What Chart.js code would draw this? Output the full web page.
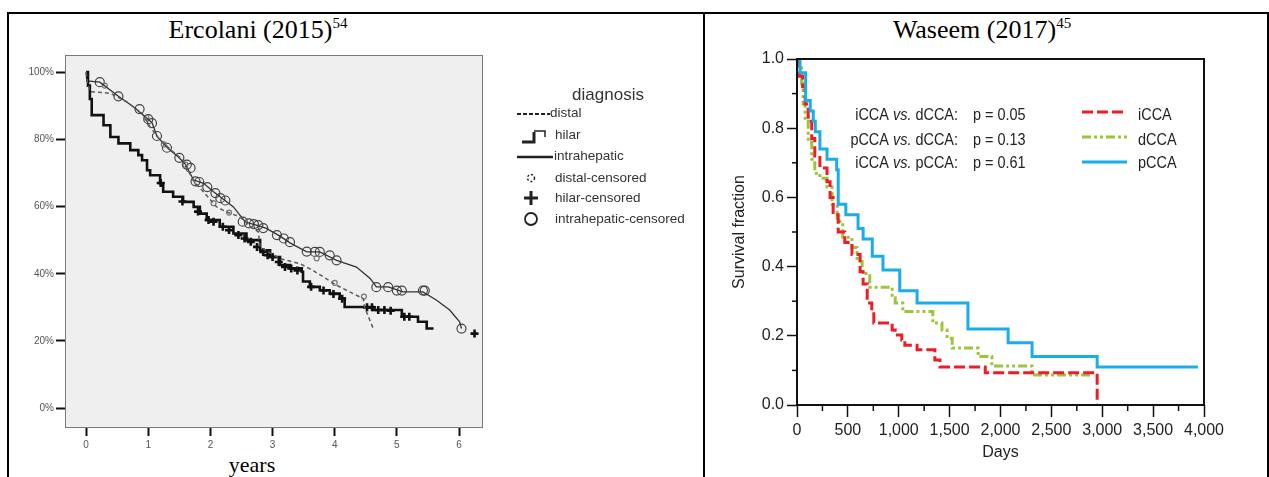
<!DOCTYPE html>
<html>
<head>
<meta charset="utf-8">
<script src="https://cdn.jsdelivr.net/npm/chart.js@4.4.0/dist/chart.umd.min.js"></script>
<style>
  body { margin: 0; background: #fff; width: 1269px; height: 477px; overflow: hidden; position: relative; font-family: "Liberation Serif", "Times New Roman", serif; }
  .rule { position: absolute; background: #000; }
  .title { position: absolute; font-size: 26px; line-height: 28px; color: #000; white-space: nowrap; transform: translateX(-50%); }
  .title sup { font-size: 15px; line-height: 0; vertical-align: 0; position: relative; top: -10px; }
  canvas { position: absolute; }
</style>
</head>
<body>
<div class="rule" style="left:7px;top:12px;width:1262px;height:2px"></div>
<div class="rule" style="left:7px;top:12px;width:2px;height:465px"></div>
<div class="rule" style="left:703px;top:12px;width:2px;height:465px"></div>
<div class="rule" style="left:1267px;top:12px;width:2px;height:465px"></div>

<div class="title" style="left:258px;top:16px">Ercolani (2015)<sup>54</sup></div>
<div class="title" style="left:982px;top:16px">Waseem (2017)<sup>45</sup></div>
<div class="title" style="left:252px;top:451px;font-size:22px">years</div>

<canvas id="ercolani" width="695" height="462" style="left:8px;top:15px"></canvas>
<canvas id="waseem" width="562" height="462" style="left:706px;top:15px"></canvas>

<script>
'use strict';

// ---- Ercolani (2015): survival (%) against years ----
const distalYears = [0, 0.02, 0.06, 0.39, 0.65, 0.9, 1.03, 1.19, 1.4, 1.56, 1.64, 1.72, 2.1, 2.26, 2.48, 2.64, 2.77, 2.8, 3.12, 3.44, 3.65, 3.9, 4.03, 4.24, 4.46, 4.48, 4.62];
const distalPct   = [100, 97, 94.2, 93.7, 91.2, 87.7, 83.7, 79.8, 76.3, 73.8, 70.8, 67.9, 59.9, 58.4, 56.9, 54, 52.5, 48, 44.5, 43, 41, 38.1, 36.6, 34.6, 32.6, 30.1, 23.7];

const hilarYears = [0, 0.03, 0.06, 0.09, 0.28, 0.39, 0.52, 0.71, 0.84, 0.9, 0.98, 1.03, 1.19, 1.24, 1.4, 1.56, 1.73, 1.83, 1.94, 2.15, 2.37, 2.58, 2.8, 2.96, 3.12, 3.28, 3.47, 3.49, 3.6, 3.76, 3.92, 4.08, 4.16, 4.62, 5.08, 5.34, 5.48, 5.59];
const hilarPct   = [100, 96, 92, 87.2, 84.2, 80.7, 78.8, 76.8, 75.3, 73.8, 70.8, 69.3, 66.9, 64.4, 62.9, 61.4, 59.9, 57.9, 56, 54, 52, 50, 47, 45, 42.6, 41.6, 40.6, 37.7, 36.1, 35.1, 34.1, 32.6, 30.1, 29.2, 27.2, 25.7, 23.7, 23.7];

const intraYears = [0, 0.01, 0.22, 0.52, 0.76, 0.95, 1.06, 1.14, 1.32, 1.48, 1.59, 1.73, 1.89, 2.05, 2.23, 2.37, 2.56, 2.74, 2.9, 3.12, 3.28, 3.55, 3.76, 4.03, 4.35, 4.57, 4.67, 4.86, 5.1, 5.42, 5.64, 5.85, 6.01, 6.04];
const intraPct   = [100, 97.4, 97, 92.8, 89.7, 86.7, 85, 80.9, 77.3, 74.8, 72.8, 67.9, 66.9, 64.4, 61.9, 59.9, 55.4, 54.5, 53.5, 51.2, 49.2, 46.5, 46.5, 44, 42, 38.6, 36.1, 36.1, 34.6, 34.6, 32.1, 29.2, 25.7, 23.7];

const distalCensYears = [0.3, 0.97, 1.25, 1.6, 2.05, 2.3, 3.71, 4.0, 4.47];
const distalCensPct   = [96, 86.5, 78.5, 72.5, 61, 58.2, 44.6, 37.3, 33.2];

const hilarCensYears = [1.2, 1.55, 1.8, 1.97, 2.05, 2.2, 2.3, 2.45, 2.55, 2.65, 2.75, 2.85, 2.92, 3.0, 3.1, 3.2, 3.3, 3.4, 3.62, 3.82, 3.98, 4.12, 4.52, 4.6, 4.7, 4.8, 4.9, 5.12, 5.2, 6.25];
const hilarCensPct   = [67, 61.5, 58.5, 56, 55.5, 54, 53, 51.5, 50.5, 49.5, 48, 46.5, 45.5, 45, 43.5, 42, 41.6, 41, 36.1, 35, 34, 32.6, 30, 30, 29.2, 29.2, 29, 27.2, 27.2, 22.2];

const intraCensYears = [0.22, 0.52, 0.86, 1.0, 1.06, 1.14, 1.3, 1.5, 1.62, 1.68, 1.76, 1.82, 1.95, 2.08, 2.16, 2.24, 2.52, 2.62, 2.7, 2.77, 2.85, 3.07, 3.18, 3.28, 3.55, 3.68, 3.76, 3.92, 4.03, 4.67, 4.86, 5.0, 5.08, 5.42, 5.45, 6.04];
const intraCensPct   = [97, 92.8, 89, 86, 84.8, 81, 77.5, 74.5, 72.5, 71.5, 67.5, 67.3, 65.8, 64, 62.5, 61.8, 55.5, 55, 54.8, 54.5, 53.6, 51.5, 50.5, 49.4, 46.6, 46.5, 46.5, 45.5, 44, 36, 36, 35, 35, 35, 35, 23.7];

const pctTicks  = [0, 20, 40, 60, 80, 100];
const yearTicks = [0, 1, 2, 3, 4, 5, 6];

// ---- Waseem (2017): survival fraction against days ----
const iccaDays = [0, 25, 55, 80, 110, 145, 175, 225, 295, 325, 355, 405, 470, 540, 620, 650, 690, 735, 755, 935, 965, 1030, 1060, 1180, 1355, 1405, 1850, 2950];
const iccaSurv = [1.0, 0.95, 0.92, 0.87, 0.82, 0.77, 0.72, 0.685, 0.645, 0.6, 0.55, 0.5, 0.47, 0.435, 0.385, 0.35, 0.295, 0.27, 0.237, 0.217, 0.202, 0.188, 0.173, 0.16, 0.13, 0.11, 0.093, 0.0];

const dccaDays = [0, 20, 45, 60, 80, 110, 145, 175, 225, 295, 345, 395, 450, 540, 590, 640, 715, 935, 965, 1040, 1335, 1425, 1475, 1525, 1780, 1915, 2310, 2880];
const dccaSurv = [1.0, 0.98, 0.93, 0.87, 0.82, 0.76, 0.71, 0.67, 0.655, 0.63, 0.58, 0.53, 0.485, 0.455, 0.415, 0.38, 0.34, 0.31, 0.295, 0.27, 0.237, 0.217, 0.193, 0.165, 0.14, 0.113, 0.087, 0.087];

const pccaDays = [0, 30, 85, 130, 160, 180, 225, 295, 390, 405, 480, 600, 650, 740, 845, 1010, 1180, 1680, 2075, 2310, 2950, 3940];
const pccaSurv = [1.0, 0.96, 0.88, 0.85, 0.82, 0.79, 0.74, 0.71, 0.68, 0.58, 0.55, 0.51, 0.48, 0.43, 0.39, 0.33, 0.295, 0.22, 0.18, 0.14, 0.11, 0.11];

const fracTicks = [0, 0.2, 0.4, 0.6, 0.8, 1.0];
const fracMinor = [0.1, 0.3, 0.5, 0.7, 0.9];
const dayTicks  = [0, 500, 1000, 1500, 2000, 2500, 3000, 3500, 4000];
const dayMinor  = [250, 750, 1250, 1750, 2250, 2750, 3250, 3750];

const pValueRows = [
  ['iCCA', 'dCCA', '0.05'],
  ['pCCA', 'dCCA', '0.13'],
  ['iCCA', 'pCCA', '0.61']
];

const SANS = "'Liberation Sans', Arial, sans-serif";
const SQUEEZE = 0.85; // the original uses a condensed Helvetica

const toPoints = (xs, ys) => xs.map((x, i) => ({x: x, y: ys[i]}));
const fixTicks = (list) => (scale) => { scale.ticks = list.map(v => ({value: v})); };

const strokeLine = function(ctx, x1, y1, x2, y2) {
  ctx.beginPath();
  ctx.moveTo(x1, y1);
  ctx.lineTo(x2, y2);
  ctx.stroke();
};

// gray plot box like the SPSS output
const ercolaniFrame = {
  id: 'ercolaniFrame',
  beforeDraw(chart) {
    const {ctx, chartArea: a} = chart;
    ctx.save();
    ctx.fillStyle = '#efefef';
    ctx.fillRect(a.left, a.top, a.right - a.left, a.bottom - a.top);
    ctx.restore();
  },
  afterDraw(chart) {
    const {ctx, chartArea: a} = chart;
    ctx.save();
    ctx.strokeStyle = '#7a7a7a';
    ctx.lineWidth = 1;
    ctx.strokeRect(a.left + 0.5, a.top + 0.5, a.right - a.left, a.bottom - a.top);
    ctx.restore();
  }
};

const ercolaniLegend = {
  id: 'ercolaniLegend',
  afterDraw(chart) {
    const ctx = chart.ctx;
    const ds = chart.data.datasets;
    const x0 = 509, tx = 546;
    ctx.save();
    ctx.fillStyle = '#333';
    ctx.textBaseline = 'middle';
    ctx.font = '17px ' + SANS;
    ctx.textAlign = 'center';
    ctx.fillText('diagnosis', 600, 80);
    ctx.textAlign = 'left';
    ctx.font = '13.5px ' + SANS;

    // distal
    ctx.strokeStyle = '#222';
    ctx.lineWidth = 2;
    ctx.setLineDash([4, 2]);
    strokeLine(ctx, x0, 99, 542, 99);
    ctx.setLineDash([]);
    ctx.fillText(ds[0].label, 542, 98);
    // hilar step
    ctx.lineWidth = 3;
    ctx.beginPath();
    ctx.moveTo(514, 127); ctx.lineTo(526, 127); ctx.lineTo(526, 117);
    ctx.stroke();
    ctx.lineWidth = 1.5;
    ctx.beginPath();
    ctx.moveTo(526, 116); ctx.lineTo(537, 116); ctx.lineTo(537, 122);
    ctx.stroke();
    ctx.fillText(ds[1].label, 547, 120);
    // intrahepatic
    ctx.lineWidth = 2.5;
    strokeLine(ctx, x0, 142, 545, 142);
    ctx.fillText(ds[2].label, 546, 141);
    // distal censored
    ctx.lineWidth = 1.5;
    ctx.setLineDash([2, 2]);
    ctx.beginPath();
    ctx.arc(523, 163, 3.5, 0, Math.PI * 2);
    ctx.stroke();
    ctx.setLineDash([]);
    ctx.fillText(ds[3].label, tx + 1, 163);
    // hilar censored
    ctx.lineWidth = 3;
    strokeLine(ctx, 516, 183, 530, 183);
    strokeLine(ctx, 523, 176, 523, 190);
    ctx.fillText(ds[4].label, tx + 1, 183);
    // intrahepatic censored
    ctx.lineWidth = 1.8;
    ctx.beginPath();
    ctx.arc(523, 204, 6, 0, Math.PI * 2);
    ctx.stroke();
    ctx.fillText(ds[5].label, tx + 1, 204);
    ctx.restore();
  }
};

new Chart(document.getElementById('ercolani'), {
  type: 'scatter',
  data: {
    datasets: [
      {label: 'distal', type: 'line', data: toPoints(distalYears, distalPct), borderColor: '#5c5c5c', borderWidth: 1.5, borderDash: [4, 3], pointRadius: 0, fill: false},
      {label: 'hilar', type: 'line', data: toPoints(hilarYears, hilarPct), borderColor: '#111', borderWidth: 2.6, stepped: true, pointRadius: 0, fill: false},
      {label: 'intrahepatic', type: 'line', data: toPoints(intraYears, intraPct), borderColor: '#333', borderWidth: 1.3, pointRadius: 0, fill: false},
      {label: 'distal-censored', data: toPoints(distalCensYears, distalCensPct), pointStyle: 'circle', pointRadius: 2.5, borderColor: '#777', backgroundColor: 'rgba(0,0,0,0)', borderWidth: 1.2},
      {label: 'hilar-censored', data: toPoints(hilarCensYears, hilarCensPct), pointStyle: 'cross', pointRadius: 4, borderColor: '#111', borderWidth: 2.6},
      {label: 'intrahepatic-censored', data: toPoints(intraCensYears, intraCensPct), pointStyle: 'circle', pointRadius: 4.5, borderColor: '#444', backgroundColor: 'rgba(0,0,0,0)', borderWidth: 1.2}
    ]
  },
  options: {
    responsive: false,
    animation: false,
    events: [],
    layout: {padding: {top: 40, right: 221, left: 0, bottom: 0}},
    plugins: {legend: {display: false}, tooltip: {enabled: false}},
    scales: {
      x: {
        type: 'linear', min: -0.34, max: 6.37,
        afterBuildTicks: fixTicks(yearTicks),
        afterFit: (s) => { s.height = 50; },
        border: {display: false},
        grid: {drawOnChartArea: false, tickLength: 9, tickWidth: 2, tickColor: '#111'},
        ticks: {font: {family: SANS, size: 10}, color: '#555', padding: 3, maxRotation: 0, autoSkip: false}
      },
      y: {
        type: 'linear', min: -5.6, max: 105.1,
        afterBuildTicks: fixTicks(pctTicks),
        afterFit: (s) => { s.width = 57; },
        border: {display: false},
        grid: {drawOnChartArea: false, tickLength: 9, tickWidth: 2, tickColor: '#111'},
        ticks: {font: {family: SANS, size: 10}, color: '#555', padding: 2, callback: (v) => v + '%'}
      }
    }
  },
  plugins: [ercolaniFrame, ercolaniLegend]
});

// draws text squeezed horizontally, anchored at x (left or right edge)
const squeezedText = function(ctx, text, x, y, alignRight) {
  const w = ctx.measureText(text).width * SQUEEZE;
  const left = alignRight ? x - w : x;
  ctx.save();
  ctx.translate(left, y);
  ctx.scale(SQUEEZE, 1);
  ctx.textAlign = 'left';
  ctx.fillText(text, 0, 0);
  ctx.restore();
  return w;
};

// black box, minor ticks, p-values and legend
const waseemExtras = {
  id: 'waseemExtras',
  afterDraw(chart) {
    const {ctx, chartArea: a, scales: {x, y}} = chart;
    const ds = chart.data.datasets;
    ctx.save();
    ctx.strokeStyle = '#111';
    ctx.lineWidth = 2;
    ctx.strokeRect(a.left, a.top, a.right - a.left, a.bottom - a.top);
    ctx.lineWidth = 1.5;
    fracMinor.forEach(v => { const py = y.getPixelForValue(v); strokeLine(ctx, a.left - 5, py, a.left, py); });
    dayMinor.forEach(v => { const px = x.getPixelForValue(v); strokeLine(ctx, px, a.bottom, px, a.bottom + 6); });

    ctx.fillStyle = '#222';
    ctx.textBaseline = 'middle';
    const rowY = [100, 125, 148];
    const rightX = 252, pX = 267;
    const regular = '17px ' + SANS, italic = 'italic 17px ' + SANS;
    pValueRows.forEach((row, i) => {
      const first = row[0] + ' ', vs = 'vs.', second = ' ' + row[1] + ':';
      ctx.font = regular;
      const wFirst = ctx.measureText(first).width * SQUEEZE;
      const wSecond = ctx.measureText(second).width * SQUEEZE;
      ctx.font = italic;
      const wVs = ctx.measureText(vs).width * SQUEEZE;
      const sx = rightX - (wFirst + wVs + wSecond);
      ctx.font = regular;
      squeezedText(ctx, first, sx, rowY[i]);
      ctx.font = italic;
      squeezedText(ctx, vs, sx + wFirst, rowY[i]);
      ctx.font = regular;
      squeezedText(ctx, second, sx + wFirst + wVs, rowY[i]);
      squeezedText(ctx, 'p = ' + row[2], pX, rowY[i]);
    });

    const lineY = [97, 122, 147];
    const textY = [100, 125, 148];
    ds.forEach((d, i) => {
      ctx.strokeStyle = d.borderColor;
      ctx.lineWidth = 3;
      ctx.setLineDash(d.borderDash || []);
      strokeLine(ctx, 376, lineY[i], 421, lineY[i]);
      ctx.setLineDash([]);
      ctx.font = regular;
      squeezedText(ctx, d.label, 432, textY[i]);
    });
    ctx.restore();
  }
};

new Chart(document.getElementById('waseem'), {
  type: 'line',
  data: {
    datasets: [
      {label: 'iCCA', data: toPoints(iccaDays, iccaSurv), borderColor: '#ee1c25', borderDash: [11, 4], borderWidth: 3, stepped: true, pointRadius: 0, fill: false, order: 1},
      {label: 'dCCA', data: toPoints(dccaDays, dccaSurv), borderColor: '#9dc43a', borderDash: [9, 3, 3, 3, 3, 3], borderWidth: 3, stepped: true, pointRadius: 0, fill: false, order: 2},
      {label: 'pCCA', data: toPoints(pccaDays, pccaSurv), borderColor: '#19aeea', borderWidth: 3, stepped: true, pointRadius: 0, fill: false, order: 0}
    ]
  },
  options: {
    responsive: false,
    animation: false,
    events: [],
    layout: {padding: {top: 44, right: 64, left: 0, bottom: 0}},
    plugins: {legend: {display: false}, tooltip: {enabled: false}},
    scales: {
      x: {
        type: 'linear', min: 0, max: 4000,
        afterBuildTicks: fixTicks(dayTicks),
        afterFit: (s) => { s.height = 72; },
        border: {display: false},
        grid: {drawOnChartArea: false, tickLength: 12, tickWidth: 1.5, tickColor: '#111'},
        ticks: {font: {family: SANS, size: 16}, color: '#222', padding: 4, maxRotation: 0, autoSkip: false,
                callback: (v) => v.toLocaleString('en-US')},
        title: {display: true, text: 'Days', font: {family: SANS, size: 16}, color: '#222', padding: {top: 0, bottom: 15}}
      },
      y: {
        type: 'linear', min: 0, max: 1.0,
        afterBuildTicks: fixTicks(fracTicks),
        afterFit: (s) => { s.width = 91; },
        border: {display: false},
        grid: {drawOnChartArea: false, tickLength: 10, tickWidth: 1.5, tickColor: '#111'},
        ticks: {font: {family: SANS, size: 16}, color: '#222', padding: 3, callback: (v) => v.toFixed(1)},
        title: {display: true, text: 'Survival fraction', font: {family: SANS, size: 16}, color: '#222', padding: {top: 24, bottom: 0}}
      }
    }
  },
  plugins: [waseemExtras]
});
</script>
</body>
</html>
